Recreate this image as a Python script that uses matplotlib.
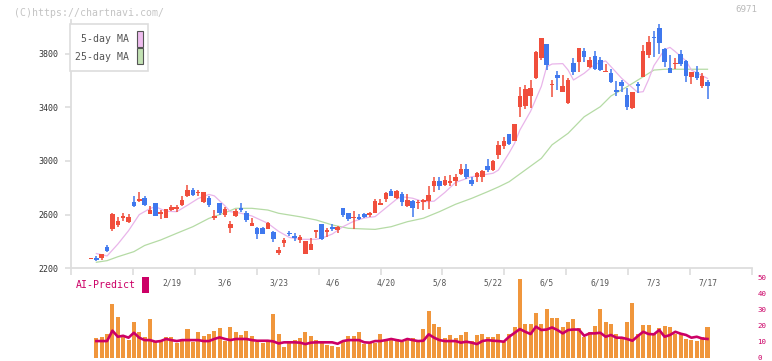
import matplotlib.pyplot as plt
from matplotlib.patches import Rectangle
from matplotlib.transforms import blended_transform_factory
import numpy as np

# 価格データ (始値, 高値, 安値, 終値)
opens = [2270, 2280, 2275, 2355, 2495, 2525, 2575, 2545, 2695, 2705,
         2725, 2605, 2690, 2605, 2575, 2635, 2640, 2670, 2735, 2785,
         2760, 2695, 2725, 2575, 2685, 2595, 2500, 2590, 2650, 2610,
         2515, 2500, 2500, 2495, 2470, 2315, 2390, 2465, 2440, 2410,
         2310, 2335, 2475, 2530, 2475, 2505, 2485, 2650, 2615, 2575,
         2585, 2605, 2595, 2610, 2670, 2720, 2775, 2725, 2755, 2665,
         2700, 2685, 2695, 2700, 2815, 2850, 2820, 2840, 2850, 2900,
         2940, 2860, 2880, 2880, 2965, 2930, 3045, 3110, 3200, 3150,
         3405, 3410, 3485, 3615, 3765, 3870, 3565, 3640, 3515, 3435,
         3730, 3740, 3820, 3700, 3780, 3750, 3660, 3655, 3530, 3585,
         3490, 3395, 3575, 3625, 3790, 3925, 3990, 3835, 3695, 3720,
         3795, 3745, 3625, 3660, 3555, 3590]
highs = [2280, 2290, 2305, 2375, 2615, 2580, 2610, 2605, 2740, 2765,
         2740, 2665, 2690, 2635, 2645, 2675, 2670, 2735, 2820, 2795,
         2785, 2765, 2740, 2635, 2690, 2660, 2550, 2640, 2690, 2630,
         2575, 2510, 2510, 2545, 2480, 2355, 2425, 2475, 2460, 2450,
         2400, 2425, 2485, 2530, 2500, 2530, 2515, 2650, 2615, 2630,
         2605, 2610, 2620, 2715, 2715, 2770, 2790, 2780, 2765, 2755,
         2710, 2710, 2720, 2815, 2880, 2880, 2890, 2895, 2900, 2980,
         2975, 2880, 2920, 2930, 3015, 3005, 3145, 3180, 3200, 3275,
         3550, 3565, 3600, 3820, 3915, 3870, 3600, 3670, 3640, 3615,
         3770, 3845, 3840, 3775, 3820, 3775, 3720, 3685, 3595, 3605,
         3540, 3510, 3590, 3865, 3930, 3965, 4020, 3845, 3790, 3765,
         3825, 3755, 3660, 3705, 3655, 3605]
lows = [2270, 2255, 2260, 2325, 2480, 2505, 2550, 2535, 2655, 2695,
        2665, 2605, 2590, 2570, 2575, 2630, 2620, 2665, 2730, 2735,
        2740, 2685, 2655, 2560, 2595, 2580, 2460, 2585, 2620, 2545,
        2515, 2420, 2455, 2495, 2395, 2300, 2360, 2440, 2405, 2385,
        2310, 2335, 2425, 2410, 2435, 2480, 2460, 2580, 2550, 2495,
        2560, 2575, 2580, 2610, 2670, 2695, 2735, 2715, 2665, 2660,
        2585, 2645, 2635, 2640, 2770, 2780, 2810, 2810, 2810, 2895,
        2865, 2810, 2845, 2845, 2920, 2925, 3015, 3090, 3120, 3145,
        3330, 3390, 3395, 3610, 3750, 3675, 3480, 3530, 3510, 3425,
        3640, 3665, 3740, 3695, 3675, 3670, 3660, 3580, 3485, 3515,
        3380, 3385, 3505, 3625, 3770, 3775, 3800, 3700, 3655, 3685,
        3705, 3590, 3570, 3605, 3545, 3465]
closes = [2275, 2265, 2305, 2330, 2605, 2550, 2585, 2585, 2665, 2715,
          2675, 2635, 2590, 2615, 2640, 2655, 2660, 2710, 2785, 2745,
          2770, 2765, 2670, 2585, 2610, 2640, 2530, 2625, 2635, 2560,
          2540, 2455, 2455, 2540, 2420, 2340, 2410, 2455, 2430, 2430,
          2400, 2380, 2485, 2420, 2480, 2495, 2510, 2595, 2565, 2580,
          2565, 2580, 2610, 2700, 2690, 2760, 2735, 2775, 2695, 2710,
          2650, 2695, 2705, 2745, 2850, 2810, 2860, 2850, 2880, 2940,
          2880, 2830, 2910, 2925, 2930, 3000, 3115, 3150, 3125, 3275,
          3485, 3535, 3540, 3815, 3915, 3715, 3575, 3620, 3560, 3600,
          3665, 3845, 3775, 3750, 3685, 3675, 3670, 3590, 3515, 3555,
          3405, 3510, 3560, 3820, 3885, 3915, 3875, 3740, 3655, 3730,
          3720, 3635, 3660, 3620, 3635, 3555]

# 移動平均線
ma5_idx = [1, 3, 5, 7, 9, 11, 12, 14, 16, 18, 20, 22, 23, 25, 26, 28, 30, 33,
           35, 37, 39, 42, 43, 45, 47, 49, 51, 53, 55, 57, 58, 60, 62, 64, 66,
           68, 70, 71, 73, 75, 76, 78, 79, 80, 82, 84, 85, 86, 88, 89, 90, 92,
           94, 96, 97, 99, 101, 102, 103, 104, 105, 107, 108, 109, 111, 112,
           114, 115]
ma5 = [2310, 2292, 2380, 2480, 2600, 2645, 2659, 2625, 2622, 2670, 2720, 2750,
       2740, 2665, 2622, 2610, 2590, 2535, 2475, 2430, 2416, 2416, 2424, 2455,
       2510, 2550, 2575, 2585, 2650, 2715, 2733, 2722, 2696, 2700, 2765, 2840,
       2868, 2882, 2895, 2908, 2932, 3060, 3130, 3230, 3370, 3555, 3702, 3722,
       3725, 3677, 3603, 3653, 3720, 3745, 3702, 3615, 3545, 3511, 3516, 3605,
       3710, 3830, 3846, 3814, 3745, 3677, 3635, 3615]
ma25_idx = [1, 3, 5, 8, 10, 13, 16, 19, 22, 25, 27, 30, 33, 35, 39, 42, 45, 48,
            51, 53, 56, 59, 62, 65, 68, 71, 74, 76, 78, 81, 84, 86, 89, 92, 95,
            97, 100, 103, 105, 107, 111, 115]
ma25 = [2245, 2257, 2286, 2324, 2370, 2411, 2461, 2510, 2572, 2614, 2647, 2647,
        2634, 2610, 2584, 2560, 2523, 2498, 2493, 2490, 2510, 2547, 2573, 2622,
        2677, 2721, 2771, 2806, 2845, 2932, 3019, 3120, 3206, 3329, 3404, 3484,
        3553, 3627, 3677, 3683, 3683, 3683]

# AI-Predict パネル (2本目から)
volume = [12.5, 13.1, 14.8, 33.5, 25.4, 14.2, 10.8, 22.3, 16.2, 13.1,
          24.2, 10.0, 10.4, 13.1, 13.1, 9.4, 11.7, 17.9, 10.0, 16.2,
          13.7, 14.6, 16.6, 18.7, 10.4, 19.2, 16.2, 14.2, 16.9, 13.7,
          10.0, 8.9, 10.4, 27.3, 14.8, 6.9, 10.4, 11.0, 12.5, 16.0,
          13.5, 11.0, 8.9, 7.9, 7.3, 6.9, 10.4, 13.7, 13.7, 16.2,
          8.3, 8.9, 8.9, 14.8, 11.0, 11.7, 11.7, 9.6, 11.7, 12.5,
          10.5, 17.9, 29.4, 21.0, 19.4, 12.5, 14.2, 12.5, 14.2, 16.2,
          10.4, 14.2, 14.8, 13.1, 13.1, 14.8, 10.0, 14.8, 19.4, 49.2,
          21.0, 21.0, 28.1, 21.0, 30.6, 25.0, 25.0, 19.4, 22.5, 24.2,
          18.7, 13.1, 16.2, 19.8, 30.6, 22.1, 21.0, 14.8, 13.1, 22.1,
          34.4, 14.8, 20.4, 20.4, 15.2, 18.3, 19.8, 19.4, 14.8, 15.2,
          11.7, 11.0, 10.4, 13.1, 19.4]
ai_predict = [10.4, 10.4, 10.4, 16.9, 13.1, 13.7, 12.5, 15.6, 12.5, 11.0,
              11.0, 10.0, 10.4, 11.7, 11.0, 10.4, 11.0, 11.0, 11.0, 11.0,
              10.4, 10.4, 11.7, 12.7, 11.7, 11.0, 11.7, 11.7, 11.7, 11.0,
              10.6, 10.6, 10.6, 10.2, 8.9, 9.6, 9.6, 9.6, 9.4, 8.5,
              9.4, 9.6, 9.6, 9.6, 9.6, 8.7, 10.4, 11.0, 11.0, 11.0,
              9.6, 9.4, 10.4, 10.4, 11.0, 11.7, 11.0, 10.4, 11.7, 11.0,
              10.4, 10.6, 14.6, 12.5, 11.0, 10.4, 10.4, 10.4, 9.4, 10.0,
              9.4, 8.5, 10.4, 11.0, 10.6, 10.4, 10.0, 13.1, 15.5, 17.9,
              16.2, 14.8, 19.4, 17.3, 17.6, 18.9, 17.3, 15.2, 17.3, 17.6,
              17.6, 13.7, 15.2, 15.2, 15.6, 13.1, 14.2, 12.5, 12.5, 11.7,
              10.6, 13.5, 16.2, 14.8, 14.6, 17.3, 13.1, 14.2, 16.2, 15.0,
              14.2, 12.5, 13.1, 12.0, 11.7]

date_idx = [15, 25, 35, 45, 55, 65, 75, 85, 95, 105, 115]
date_labels = ['2/19', '3/6', '3/23', '4/6', '4/20', '5/8', '5/22', '6/5',
               '6/19', '7/3', '7/17']
price_ticks = [2200, 2600, 3000, 3400, 3800]
vol_ticks = [0, 10, 20, 30, 40, 50]

W, H = 772, 361
RED = '#f04e3c'
BLUE = '#3f78ee'
PINK = '#cc0066'
AXIS = '#dddddd'

plt.rcParams['font.family'] = 'DejaVu Sans Mono'

fig = plt.figure(figsize=(W / 100, H / 100), dpi=100)


def fx(x):
    return x / W


def fy(y):
    return 1 - y / H


# メインチャート
ax = fig.add_axes([fx(71), fy(268.3), (752 - 71) / W, (268.3 - 20) / H])
xlim = (-3.73, 123.3)
ax.set_xlim(*xlim)
ax.set_ylim(2200, 4050)

o = np.array(opens)
h = np.array(highs)
l = np.array(lows)
c = np.array(closes)
x = np.arange(len(o))
cols = np.where(c >= o, RED, BLUE)

ax.plot(ma25_idx, ma25, color='#b5dba5', lw=0.9, zorder=1)
ax.plot(ma5_idx, ma5, color='#e9b5ea', lw=0.9, zorder=1)

ax.vlines(x, l, h, colors=cols, lw=1.1, zorder=2)
body = np.maximum(np.abs(c - o), 12)
mid = (o + c) / 2
ax.bar(x, body, bottom=mid - body / 2, width=0.85, color=cols, linewidth=0, zorder=3)

for s in ['top', 'right']:
    ax.spines[s].set_visible(False)
for s in ['left', 'bottom']:
    ax.spines[s].set_color(AXIS)
    ax.spines[s].set_linewidth(1.3)

ax.set_xticks(np.linspace(xlim[0], xlim[1], 12))
ax.set_xticklabels([])
ax.tick_params(axis='x', length=5, color=AXIS, width=1.2)
ax.set_yticks(price_ticks)
ax.tick_params(axis='y', length=4, color=AXIS, width=1.2, pad=5,
               labelsize=6, labelcolor='#333333')

# 日付ラベル
trans = blended_transform_factory(ax.transData, fig.transFigure)
for xi, lab in zip(date_idx, date_labels):
    ax.text(xi, fy(283), lab, transform=trans, ha='center', va='center',
            fontsize=5.7, color='#555555', clip_on=False)

# 凡例
fig.add_artist(Rectangle((fx(70), fy(71)), 78 / W, 47 / H, transform=fig.transFigure,
                         facecolor='white', edgecolor=AXIS, lw=1.2, zorder=5))
fig.text(fx(129), fy(39.5), '5-day MA', ha='right', va='center', fontsize=7.1,
         color='#555555', zorder=6)
fig.text(fx(129), fy(57), '25-day MA', ha='right', va='center', fontsize=7.1,
         color='#555555', zorder=6)
fig.add_artist(Rectangle((fx(136.5), fy(46.5)), 6 / W, 15.5 / H, transform=fig.transFigure,
                         facecolor='#efbdef', edgecolor='#555555', lw=0.8, zorder=6))
fig.add_artist(Rectangle((fx(136.5), fy(63.5)), 6 / W, 15.5 / H, transform=fig.transFigure,
                         facecolor='#c3e2b4', edgecolor='#555555', lw=0.8, zorder=6))

# AI-Predict パネル
ax2 = fig.add_axes([fx(71), fy(357.7), (752 - 71) / W, 80 / H])
ax2.set_xlim(*xlim)
ax2.set_ylim(0, 50)
ax2.patch.set_alpha(0)
vx = np.arange(1, len(volume) + 1)
ax2.bar(vx, volume, width=0.75, color='#f0963c', linewidth=0, zorder=1)
ax2.plot(vx, ai_predict, color=PINK, lw=1.9, zorder=2)
for s in ax2.spines.values():
    s.set_visible(False)
ax2.set_xticks([])
ax2.yaxis.tick_right()
ax2.set_yticks(vol_ticks)
ax2.tick_params(axis='y', length=0, pad=4, labelsize=5.4, labelcolor=PINK)

fig.text(fx(76), fy(285), 'AI-Predict', ha='left', va='center', fontsize=7.1, color=PINK)
fig.add_artist(Rectangle((fx(142), fy(293)), 7 / W, 16 / H, transform=fig.transFigure,
                         facecolor=PINK, edgecolor='none'))

# ヘッダー
fig.text(fx(14), fy(12.5), '(C)https://chartnavi.com/', ha='left', va='center',
         fontsize=7.1, color='#c4c4c4')
fig.text(fx(757), fy(10), '6971', ha='right', va='center', fontsize=6.6, color='#bbbbbb')

fig.savefig('out.png', dpi=100)
